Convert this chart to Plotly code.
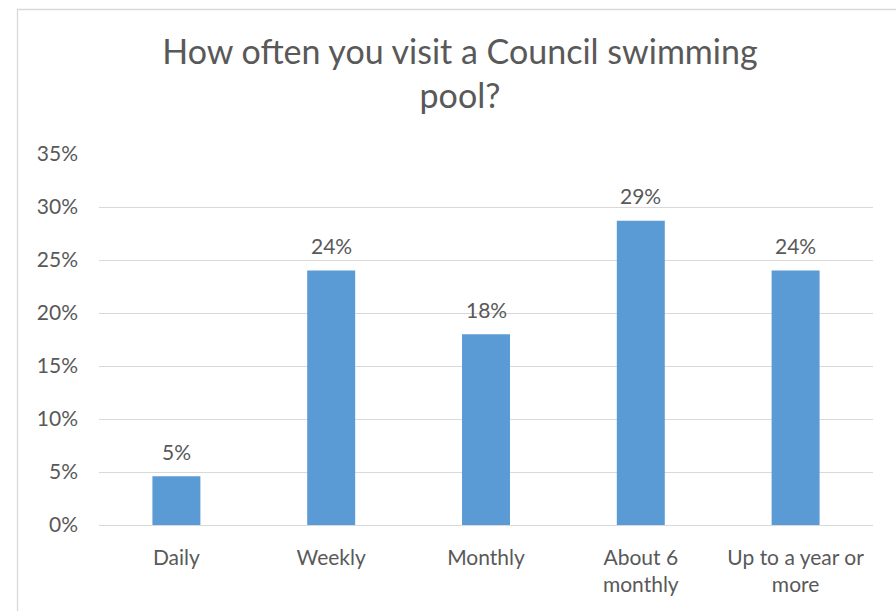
import plotly.graph_objects as go

# Survey responses: how often people visit a Council swimming pool
categories = ["Daily", "Weekly", "Monthly", "About 6<br>monthly", "Up to a year or<br>more"]
shares = [0.046, 0.240, 0.180, 0.287, 0.240]
y_ticks = [0, 0.05, 0.10, 0.15, 0.20, 0.25, 0.30, 0.35]
y_tick_labels = ["0%", "5%", "10%", "15%", "20%", "25%", "30%", "35%"]

TEXT_GREY = "#595959"
GRID_GREY = "#D9D9D9"
BAR_BLUE = "#5B9BD5"
FONT = "Lato, 'Open Sans', sans-serif"

fig = go.Figure(
    go.Bar(
        x=categories,
        y=shares,
        width=0.31,
        marker=dict(color=BAR_BLUE, line=dict(width=0)),
        hoverinfo="skip",
    )
)

# Value labels sitting above each bar
for cat, val in zip(categories, shares):
    fig.add_annotation(
        x=cat, y=val, xref="x", yref="y",
        text=f"{val:.0%}",
        showarrow=False,
        yanchor="middle",
        yshift=25,
        font=dict(family=FONT, size=21, color=TEXT_GREY),
    )

# Thin grey frame around the chart area
fig.add_shape(
    type="rect", xref="paper", yref="paper",
    x0=-0.1053, x1=1.05, y0=-0.3, y1=1.3895,
    line=dict(color=GRID_GREY, width=1.3),
    fillcolor="rgba(0,0,0,0)", layer="below",
)

fig.update_layout(
    width=896,
    height=611,
    margin=dict(l=99, r=23, t=154, b=86),
    paper_bgcolor="white",
    plot_bgcolor="white",
    showlegend=False,
    bargap=0.69,
    font=dict(family=FONT, color=TEXT_GREY),
    title=dict(
        text="How often you visit a Council swimming<br>pool?",
        x=460 / 896,
        xanchor="center",
        xref="container",
        y=1 - 64 / 611,
        yanchor="top",
        yref="container",
        font=dict(family=FONT, size=34, color=TEXT_GREY),
    ),
    xaxis=dict(
        showgrid=False,
        showline=False,
        ticks="",
        tickfont=dict(family=FONT, size=21, color=TEXT_GREY),
        ticklabelstandoff=18,
        fixedrange=True,
    ),
    yaxis=dict(
        range=[0, 0.35],
        tickvals=y_ticks,
        ticktext=y_tick_labels,
        showgrid=True,
        gridcolor=GRID_GREY,
        gridwidth=1.3,
        zeroline=True,
        zerolinecolor=GRID_GREY,
        zerolinewidth=1.3,
        showline=False,
        ticks="",
        tickfont=dict(family=FONT, size=21, color=TEXT_GREY),
        ticklabelstandoff=20,
        fixedrange=True,
    ),
)

fig.write_html("out.html")
